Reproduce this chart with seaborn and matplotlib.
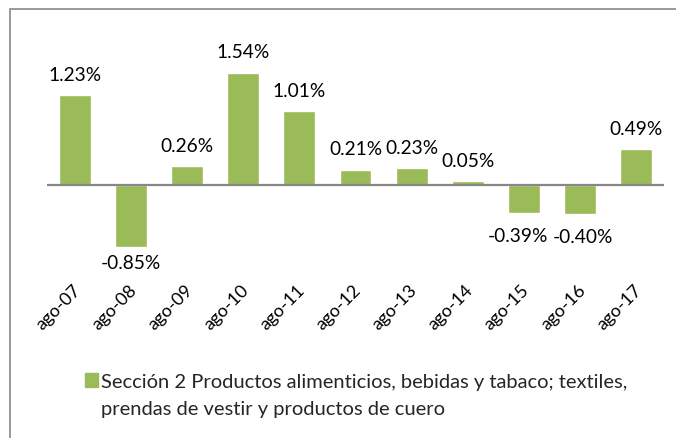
import matplotlib
matplotlib.use("Agg")
import matplotlib.pyplot as plt
import matplotlib.patches as mpatches
import matplotlib.transforms as mtransforms
import pandas as pd
import seaborn as sns

periodos = ["ago-07", "ago-08", "ago-09", "ago-10", "ago-11", "ago-12",
            "ago-13", "ago-14", "ago-15", "ago-16", "ago-17"]
variacion = [1.23, -0.85, 0.26, 1.54, 1.01, 0.21, 0.23, 0.05, -0.39, -0.40, 0.49]
etiquetas = ["1.23%", "-0.85%", "0.26%", "1.54%", "1.01%", "0.21%",
             "0.23%", "0.05%", "-0.39%", "-0.40%", "0.49%"]
serie = ["Sección 2 Productos alimenticios, bebidas y tabaco; textiles,",
         "prendas de vestir y productos de cuero"]

verde = "#9BBB59"
gris = "#878787"
fs = 14.5

df = pd.DataFrame({"periodo": periodos, "variacion": variacion})

sns.set_style("white")
plt.rcParams["font.family"] = ["Lato", "DejaVu Sans"]
plt.rcParams["font.weight"] = "normal"

W, H = 676, 439
fig = plt.figure(figsize=(W / 100, H / 100), dpi=100)
ax = fig.add_axes([47 / W, 1 - 270 / H, 617 / W, 240 / H])

sns.barplot(data=df, x="periodo", y="variacion", color=verde, width=0.57,
            saturation=1, ax=ax)

ax.set_xlim(-0.5, len(periodos) - 0.5)
ax.set_ylim(-(270 - 186) / 73, (186 - 30) / 73)
ax.axhline(0, color=gris, lw=1.6, zorder=3)
for s in ax.spines.values():
    s.set_visible(False)
ax.set_yticks([])
ax.set_xlabel("")
ax.set_ylabel("")
ax.tick_params(axis="x", length=0, pad=13)
ax.set_xticks(range(len(periodos)))
ax.set_xticklabels(periodos, rotation=45, ha="right", va="center",
                   rotation_mode="anchor", fontsize=13, color="#000000")
shift = mtransforms.ScaledTranslation(3 / 100, 0, fig.dpi_scale_trans)
for lab in ax.get_xticklabels():
    lab.set_transform(lab.get_transform() + shift)

# desplazamiento horizontal para que -0.39% y -0.40% no se encimen
dx = [0, 0, 0, 0, 0, 0, 0, 0, -4, 2, 0]
for i, (v, t) in enumerate(zip(variacion, etiquetas)):
    off = 9 if v >= 0 else -10
    if v < -0.8:
        off = -5
    ax.annotate(t, (i, v), xytext=(dx[i], off), textcoords="offset points",
                ha="center", va="bottom" if v >= 0 else "top",
                fontsize=13.8, color="#000000")

# marco del grafico
marco = mpatches.Rectangle((10 / W, -0.1), 1.2, 1 - 10 / H + 0.1,
                           transform=fig.transFigure, fill=False,
                           edgecolor=gris, lw=1.2)
fig.patches.append(marco)

# leyenda en dos renglones: el segundo sin marcador
handles = [mpatches.Patch(color=verde), mpatches.Patch(color="none")]
leg = fig.legend(handles, serie, loc="upper left",
                 bbox_to_anchor=(85 / W, 1 - 374 / H), frameon=False,
                 fontsize=fs, handlelength=0.65, handleheight=0.65,
                 handletextpad=0.15, labelspacing=0.5, borderpad=0,
                 borderaxespad=0)

fig.savefig("out.png", dpi=100)
